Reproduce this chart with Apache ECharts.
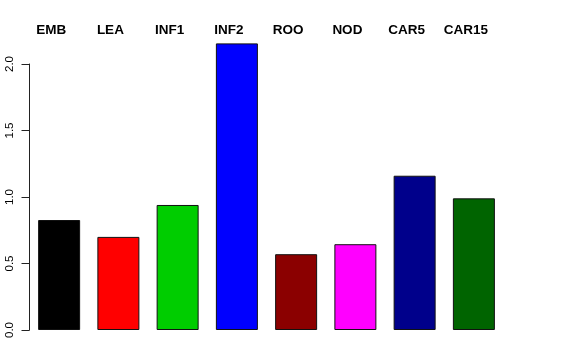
<!DOCTYPE html>
<html><head><meta charset="utf-8">
<script src="https://cdn.jsdelivr.net/npm/echarts@6/dist/echarts.min.js"></script>
<style>html,body{margin:0;padding:0;background:#fff}#c{width:576px;height:360px}</style>
</head><body><div id="c"></div>
<script>
var categories = ["EMB","LEA","INF1","INF2","ROO","NOD","CAR5","CAR15"];
var values = [0.827, 0.70, 0.94, 2.155, 0.57, 0.645, 1.16, 0.99];
var colors = ["#000000","#FF0000","#00CD00","#0000FF","#8B0000","#FF00FF","#00008B","#006400"];
var yTicks = [0, 0.5, 1.0, 1.5, 2.0];

var chart = echarts.init(document.getElementById('c'), null, {renderer:'canvas'});
chart.setOption({
  animation:false,
  backgroundColor:'#ffffff',
  grid:{left:29.5, right:72.5, top:64, bottom:30},
  xAxis:[{
    type:'category', data:categories, position:'top',
    axisLine:{show:false}, axisTick:{show:false},
    axisLabel:{show:true, margin:27, fontFamily:'Liberation Sans, Arial, sans-serif', fontWeight:'bold', fontSize:13.5, color:'#000', padding:[0,16,0,0], interval:0}
  }],
  yAxis:{
    type:'value', min:yTicks[0], max:yTicks[yTicks.length-1], interval:0.5,
    splitLine:{show:false},
    axisLine:{show:true, lineStyle:{color:'#222', width:1}},
    axisTick:{show:true, length:8, lineStyle:{color:'#222'}},
    axisLabel:{rotate:90, margin:14, fontFamily:'Liberation Sans, Arial, sans-serif', fontSize:11.5, color:'#000',
      formatter:function(v){return v.toFixed(1);}}
  },
  series:[{
    type:'bar', barWidth:42, clip:false,
    data:values.map(function(v,i){return {value:v, itemStyle:{color:colors[i], borderColor:'#111', borderWidth:1}};})
  }]
});
</script></body></html>
